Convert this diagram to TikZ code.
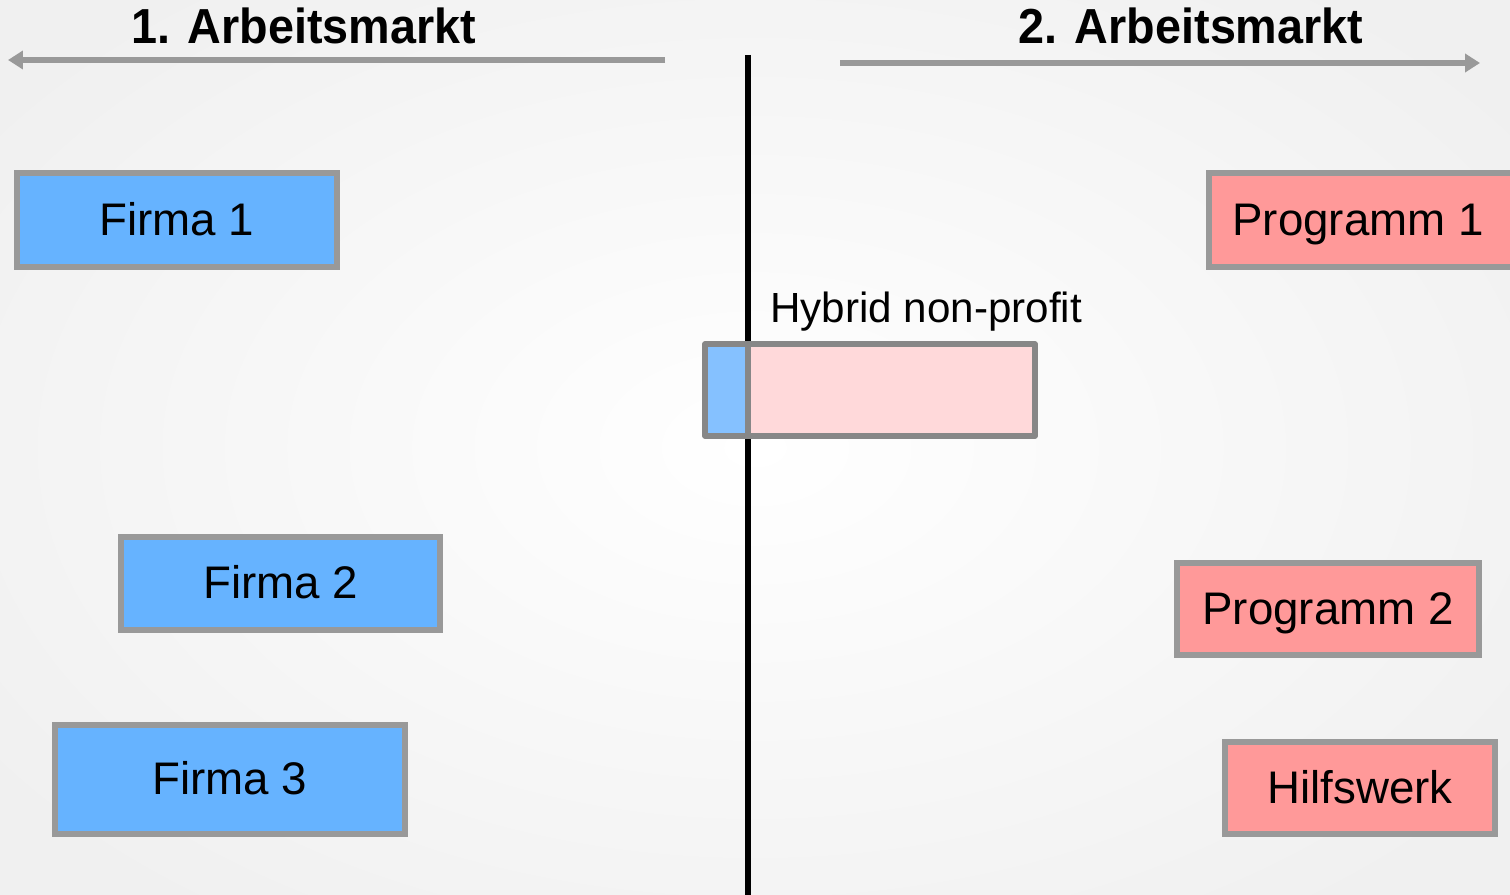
\documentclass[tikz,border=0pt]{standalone}
\usepackage{fontspec}
\setmainfont{Liberation Sans}
\usetikzlibrary{arrows.meta}

\definecolor{firmablue}{HTML}{66B3FF}
\definecolor{hybridblue}{HTML}{85C1FF}
\definecolor{programmred}{HTML}{FF9999}
\definecolor{hybridred}{HTML}{FFD9DA}
\definecolor{randgrau}{HTML}{999999}
\definecolor{hybridgrau}{HTML}{878787}

\tikzset{
	marktpfeil/.style={draw=randgrau,line width=3pt,-{Triangle[length=0.3cm,width=0.36cm]}},
	titel/.style={font=\fontsize{28}{32}\bfseries\selectfont,xscale=0.95},
	firma/.style={draw=randgrau,fill=firmablue,line width=3.4pt},
	programm/.style={draw=randgrau,fill=programmred,line width=3.4pt},
	boxtext/.style={font=\fontsize{26}{30}\selectfont,text height=18.7pt,text depth=1.5pt},
}

\begin{document}
\begin{tikzpicture}[x=0.02cm,y=-0.02cm]
			\useasboundingbox (0,0) rectangle (1510,895);
			\clip (0,0) rectangle (1510,895);
			\shade[inner color=white,outer color=black!6] (-200,-150) rectangle (1710,1045);
			% Arbeitsmarkt 1 und 2
			\node[titel] (markt1) at (304,26) {1. Arbeitsmarkt};
			\node[titel] (markt2) at (1191,26) {2. Arbeitsmarkt};
			\coordinate (links1) at (665,60);
			\coordinate (links0) at (8,60);
			\coordinate (rechts1) at (840,63);
			\coordinate (rechts0) at (1480,63);
			\draw[marktpfeil] (links1) -- (links0);
			\draw[marktpfeil] (rechts1) -- (rechts0);
			\draw[line width=3pt] (748,55) -- (748,900);
			% Firmen
			\draw[firma] (17,173) rectangle (337,267) node[pos=.5,boxtext] (firma1) {Firma 1};
			\draw[firma] (121,537) rectangle (440,630) node[pos=.5,boxtext] (firma2) {Firma 2};
			\draw[firma] (55,725) rectangle (405,834) node[pos=.5,boxtext] (firma3) {Firma 3};
			% Programme
			\draw[programm] (1209,173) rectangle (1540,267);
			\node[boxtext] (prog1) at (1358,220) {Programm 1};
			\draw[programm] (1177,563) rectangle (1479,655) node[pos=.5,boxtext] (prog2) {Programm 2};
			\draw[programm] (1225,742) rectangle (1495,834) node[pos=.5,boxtext] (hilfe) {Hilfswerk};
			% Hybrid
			\fill[hybridblue] (705,344) rectangle (748,436);
			\fill[hybridred] (748,344) rectangle (1035,436);
			\draw[hybridgrau,line width=3.2pt,line join=round] (705,344) rectangle (1035,436);
			\draw[hybridgrau,line width=3.2pt] (748,344) -- (748,436);
			\node[anchor=west,font=\fontsize{24}{28}\selectfont] (hybrid) at (764,312) {Hybrid non-profit};
		\end{tikzpicture}
\end{document}
